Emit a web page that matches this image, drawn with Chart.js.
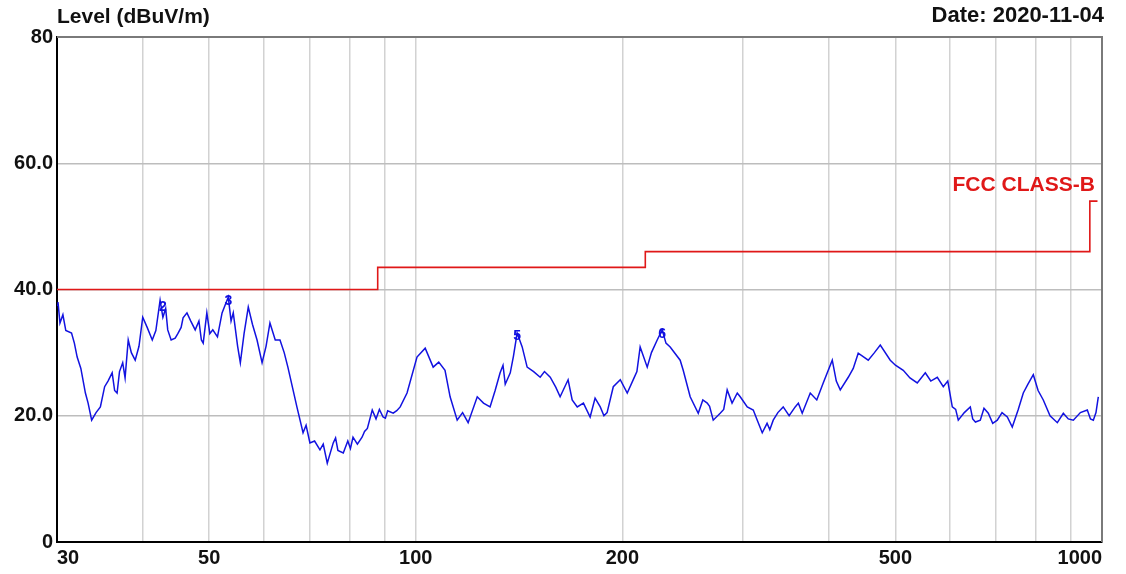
<!DOCTYPE html>
<html>
<head>
<meta charset="utf-8">
<script src="https://cdn.jsdelivr.net/npm/chart.js@4.4.0/dist/chart.umd.min.js"></script>
<style>
  html, body { margin: 0; padding: 0; background: #fff; }
  #wrap { width: 1126px; height: 574px; position: relative; }
</style>
</head>
<body>
<div id="wrap"><canvas id="emiChart"></canvas></div>
<script>
// 측정 데이터 (MHz / dBuV/m)
const traceFreq = [
  30.0, 30.1, 30.3, 30.6, 30.9, 31.5, 31.8, 32.1, 32.5, 33.0,
  33.3, 33.7, 34.2, 34.7, 35.2, 35.6, 36.1, 36.4, 36.7, 37.0,
  37.4, 37.7, 38.1, 38.5, 39.0, 39.5, 40.0, 40.6, 41.3, 41.8,
  42.4, 42.8, 43.2, 43.5, 44.0, 44.6, 45.0, 45.5, 45.8, 46.4,
  47.0, 47.7, 48.3, 48.7, 49.0, 49.6, 50.1, 50.6, 51.4, 52.2,
  53.3, 53.8, 54.2, 55.0, 55.5, 56.2, 57.0, 57.8, 58.7, 59.7,
  60.5, 61.3, 62.4, 63.4, 64.3, 65.1, 67.1, 68.5, 69.2, 70.1,
  71.2, 72.5, 73.3, 74.3, 75.8, 76.4, 77.0, 78.4, 79.6, 80.3,
  81.0, 82.2, 83.5, 84.2, 85.0, 86.4, 87.5, 88.5, 89.6, 90.3,
  91.0, 92.7, 93.8, 94.9, 97.1, 100.4, 103.2, 106.0, 108.0, 110.3,
  112.2, 114.9, 117.0, 119.2, 122.9, 125.5, 128.3, 130.5, 132.7, 134.0,
  135.0, 137.3, 138.8, 140.5, 142.9, 145.3, 148.5, 151.8, 154.0, 157.0,
  160.0, 162.3, 166.7, 169.0, 171.9, 175.5, 179.5, 182.5, 185.7, 188.0,
  190.0, 194.0, 198.6, 203.3, 208.0, 210.0, 212.3, 217.4, 220.5, 224.8,
  228.6, 231.5, 234.8, 242.8, 245.3, 251.1, 258.0, 262.0, 265.9, 268.0,
  271.3, 277.7, 281.0, 284.3, 289.0, 294.1, 297.0, 304.1, 310.3, 314.5,
  319.8, 325.0, 328.0, 331.8, 337.0, 343.1, 350.0, 357.2, 361.0, 365.7,
  375.7, 384.0, 392.4, 404.5, 410.0, 415.5, 426.8, 434.0, 441.3, 456.4,
  466.0, 475.2, 491.4, 500.0, 513.3, 525.0, 538.0, 552.7, 563.0, 575.4,
  587.1, 596.0, 605.1, 612.0, 617.4, 630.0, 642.8, 648.0, 654.0, 664.7,
  673.0, 682.8, 693.0, 703.7, 715.0, 727.8, 740.0, 755.0, 767.9, 780.0,
  794.1, 807.0, 821.2, 840.0, 860.8, 878.3, 893.0, 908.3, 930.0, 951.9,
  962.0, 971.3, 980.0, 987.7
];
const traceLevel = [
  37.5, 38.0, 34.7, 36.0, 33.5, 33.1, 31.5, 29.3, 27.5, 23.6,
  22.0, 19.3, 20.5, 21.4, 24.6, 25.5, 26.8, 24.0, 23.6, 27.0,
  28.4, 26.0, 32.0, 30.0, 28.8, 31.0, 35.6, 34.0, 32.0, 33.5,
  38.3, 35.6, 37.0, 33.6, 32.0, 32.3, 33.0, 34.0, 35.5, 36.3,
  35.0, 33.6, 35.0, 32.0, 31.5, 36.3, 33.0, 33.6, 32.5, 36.3,
  38.8, 35.0, 36.3, 31.0, 28.4, 33.0, 37.2, 34.5, 32.0, 28.4,
  31.0, 34.7, 32.0, 32.0, 30.0, 27.7, 21.4, 17.3, 18.5, 15.7,
  16.0, 14.6, 15.5, 12.5, 15.7, 16.5, 14.5, 14.1, 16.0, 14.8,
  16.6, 15.5, 16.6, 17.5, 18.0, 20.9, 19.5, 21.0, 19.8, 19.6,
  20.8, 20.4, 20.8, 21.4, 23.6, 29.3, 30.7, 27.7, 28.5, 27.2,
  23.0, 19.3, 20.5, 18.9, 23.0, 22.0, 21.4, 24.0, 26.8, 28.0,
  25.0, 26.8, 29.5, 33.1, 30.9, 27.7, 27.0, 26.1, 27.0, 26.1,
  24.5, 23.0, 25.7, 22.5, 21.4, 22.0, 19.8, 22.8, 21.4, 20.0,
  20.5, 24.6, 25.7, 23.6, 26.0, 27.0, 30.9, 27.7, 30.0, 32.0,
  33.6, 31.5, 30.9, 28.8, 27.2, 23.0, 20.4, 22.5, 22.0, 21.5,
  19.3, 20.4, 21.0, 24.1, 22.0, 23.6, 23.0, 21.4, 20.9, 19.3,
  17.3, 18.8, 17.8, 19.3, 20.5, 21.4, 20.0, 21.4, 22.0, 20.4,
  23.6, 22.5, 25.2, 28.8, 25.5, 24.1, 26.1, 27.5, 29.9, 28.8,
  30.0, 31.2, 28.8, 28.0, 27.2, 26.0, 25.2, 26.8, 25.5, 26.1,
  24.6, 25.5, 21.4, 21.0, 19.3, 20.5, 21.4, 19.5, 19.0, 19.3,
  21.2, 20.4, 18.8, 19.3, 20.5, 19.8, 18.2, 21.0, 23.6, 25.0,
  26.5, 24.0, 22.5, 20.0, 18.9, 20.4, 19.5, 19.3, 20.5, 20.9,
  19.5, 19.3, 20.5, 23.0
];

// FCC Class B 한계선
const limitFreq = [30, 88, 88, 216, 216, 960, 960, 985];
const limitLevel = [40, 40, 43.5, 43.5, 46, 46, 54, 54];

// 마커
const markerFreq = [42.8, 53.3, 140.5, 228.6];
const markerLevel = [36.5, 37.5, 32.0, 32.3];
const markerLabel = ['2', '3', '5', '6'];

// 축 눈금
const gridFreqs = [30, 40, 50, 60, 70, 80, 90, 100, 200, 300, 400, 500, 600, 700, 800, 900, 1000];
const labelFreqs = [30, 50, 100, 200, 500, 1000];
const yTickValues = [0, 20, 40, 60, 80];
const yTickLabels = ['0', '20.0', '40.0', '60.0', '80'];

const FONT = '"Liberation Sans", Arial, sans-serif';

// 제목, 날짜, 한계선 이름, 마커 번호, 테두리
const overlayPlugin = {
  id: 'overlay',
  afterDraw(chart) {
    const ctx = chart.ctx;
    const area = chart.chartArea;
    const xs = chart.scales.x;
    const ys = chart.scales.y;
    ctx.save();

    // 위쪽, 오른쪽 테두리
    ctx.strokeStyle = '#7a7a7a';
    ctx.lineWidth = 2;
    ctx.beginPath();
    ctx.moveTo(area.left, area.top);
    ctx.lineTo(area.right, area.top);
    ctx.lineTo(area.right, area.bottom);
    ctx.stroke();

    ctx.fillStyle = '#111';
    ctx.textBaseline = 'middle';
    ctx.textAlign = 'left';
    ctx.font = 'bold 21px ' + FONT;
    ctx.fillText('Level (dBuV/m)', area.left, 17);
    ctx.textAlign = 'right';
    ctx.font = 'bold 22px ' + FONT;
    ctx.fillText('Date: 2020-11-04', area.right + 2, 16);

    ctx.fillStyle = '#e01818';
    ctx.font = 'bold 21px ' + FONT;
    ctx.textAlign = 'right';
    ctx.fillText('FCC CLASS-B', xs.getPixelForValue(960) + 5, ys.getPixelForValue(54) - 16);

    ctx.fillStyle = '#1010e0';
    ctx.font = 'bold 14px ' + FONT;
    ctx.textAlign = 'center';
    for (let i = 0; i < markerFreq.length; i++) {
      ctx.fillText(markerLabel[i], xs.getPixelForValue(markerFreq[i]), ys.getPixelForValue(markerLevel[i]) - 4);
    }
    ctx.restore();
  }
};

const ctx = document.getElementById('emiChart').getContext('2d');
new Chart(ctx, {
  type: 'line',
  data: {
    datasets: [{
      label: 'Limit',
      data: limitFreq.map((f, i) => ({ x: f, y: limitLevel[i] })),
      borderColor: '#e01818',
      borderWidth: 1.6,
      pointRadius: 0,
      tension: 0
    }, {
      label: 'Level',
      data: traceFreq.map((f, i) => ({ x: f, y: traceLevel[i] })),
      borderColor: '#1212e0',
      borderWidth: 1.5,
      pointRadius: 0,
      tension: 0
    }]
  },
  options: {
    responsive: true,
    maintainAspectRatio: false,
    animation: false,
    layout: { padding: { top: 37, right: 24, left: 0, bottom: 0 } },
    plugins: {
      legend: { display: false },
      tooltip: { enabled: false }
    },
    scales: {
      x: {
        type: 'logarithmic',
        min: 30,
        max: 1000,
        afterBuildTicks: function(scale) {
          scale.ticks = gridFreqs.map(v => ({ value: v }));
        },
        afterFit: function(scale) { scale.height = 32; },
        grid: { color: '#d2d2d2', lineWidth: 1.5, drawTicks: false },
        border: { color: '#000', width: 2 },
        ticks: {
          autoSkip: false,
          maxRotation: 0,
          align: 'inner',
          padding: 4,
          color: '#111',
          font: { family: FONT, size: 20, weight: 'bold' },
          callback: function(value) {
            return labelFreqs.includes(value) ? String(value) : '';
          }
        }
      },
      y: {
        min: 0,
        max: 80,
        afterBuildTicks: function(scale) {
          scale.ticks = yTickValues.map(v => ({ value: v }));
        },
        afterFit: function(scale) { scale.width = 57; },
        grid: { color: '#bdbdbd', lineWidth: 1.5, drawTicks: false },
        border: { color: '#000', width: 2 },
        ticks: {
          padding: 4,
          color: '#111',
          font: { family: FONT, size: 20, weight: 'bold' },
          callback: function(value) {
            const i = yTickValues.indexOf(value);
            return i >= 0 ? yTickLabels[i] : '';
          }
        }
      }
    }
  },
  plugins: [overlayPlugin]
});
</script>
</body>
</html>
